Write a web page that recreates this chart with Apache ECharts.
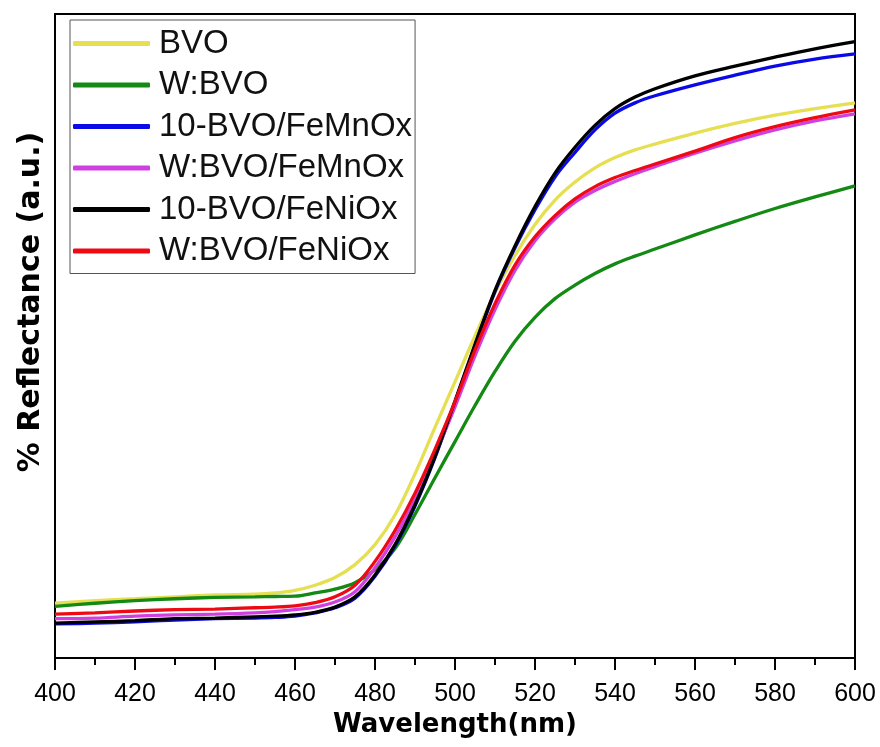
<!DOCTYPE html>
<html>
<head>
<meta charset="utf-8">
<title>Diffuse reflectance spectra</title>
<script src="https://cdn.jsdelivr.net/npm/echarts@6/dist/echarts.min.js"></script>
<style>
  html, body { margin: 0; padding: 0; background: #fff; }
  #chart { width: 880px; height: 747px; }
</style>
</head>
<body>
<div id="chart"></div>
<script>
// Wavelength sampling (nm)
const wavelengths = [400, 410, 420, 430, 440, 450, 455, 460, 465, 470, 475, 480, 485, 490, 495,
  500, 505, 510, 515, 520, 525, 530, 535, 540, 545, 550, 560, 570, 580, 590, 600];

// Reflectance (a.u.) for each sample
const bvo = [8.5, 8.9, 9.2, 9.5, 9.8, 9.9, 10.1, 10.5, 11.3, 12.5, 14.5, 17.6, 22.2, 28.6, 35.8,
  42.9, 50.0, 56.7, 62.5, 67.3, 71.1, 73.9, 76.1, 77.7, 78.9, 79.8, 81.5, 83.0, 84.3, 85.3, 86.2];
const wBvo = [8.0, 8.5, 8.9, 9.2, 9.4, 9.5, 9.55, 9.6, 10.1, 10.7, 11.7, 13.7, 17.0, 22.3, 28.0,
  33.6, 39.2, 44.5, 49.2, 52.9, 55.8, 57.9, 59.7, 61.2, 62.4, 63.5, 65.7, 67.8, 69.8, 71.6, 73.3];
const bvoFeMnOx = [5.3, 5.4, 5.6, 5.9, 6.1, 6.2, 6.3, 6.5, 7.0, 7.8, 9.3, 12.7, 17.4, 23.6, 31.1,
  39.7, 48.5, 56.9, 63.7, 69.6, 74.7, 78.5, 82.0, 84.6, 86.2, 87.3, 89.0, 90.5, 91.9, 93.0, 93.8];
const wBvoFeMnOx = [6.1, 6.2, 6.5, 6.7, 6.8, 7.0, 7.2, 7.5, 7.9, 8.7, 10.3, 14.0, 18.8, 24.6, 31.6,
  39.0, 46.9, 54.1, 60.2, 64.8, 68.2, 70.8, 72.6, 74.0, 75.2, 76.3, 78.4, 80.3, 82.0, 83.4, 84.5];
const bvoFeNiOx = [5.4, 5.6, 5.8, 6.1, 6.2, 6.4, 6.5, 6.7, 7.1, 7.9, 9.5, 12.9, 17.6, 23.8, 31.3,
  39.9, 48.7, 57.1, 64.0, 70.1, 75.3, 79.3, 82.7, 85.3, 87.1, 88.4, 90.4, 91.9, 93.3, 94.6, 95.7];
const wBvoFeNiOx = [6.8, 7.0, 7.3, 7.5, 7.6, 7.8, 7.9, 8.1, 8.6, 9.5, 11.3, 15.0, 19.8, 25.6, 32.4,
  39.8, 47.8, 55.0, 61.0, 65.4, 68.7, 71.3, 73.2, 74.6, 75.7, 76.7, 78.7, 80.8, 82.5, 83.9, 85.1];

const seriesNames = ['BVO', 'W:BVO', '10-BVO/FeMnOx', 'W:BVO/FeMnOx', '10-BVO/FeNiOx', 'W:BVO/FeNiOx'];
const seriesValues = [bvo, wBvo, bvoFeMnOx, wBvoFeMnOx, bvoFeNiOx, wBvoFeNiOx];
const seriesColors = ['#E6DF52', '#138A13', '#0A0AE6', '#D040E0', '#000000', '#EE0A14'];

const FONT = '"Liberation Sans", Arial, sans-serif';
const TITLE_FONT = '"DejaVu Sans", "Liberation Sans", sans-serif';

const chart = echarts.init(document.getElementById('chart'), null, { renderer: 'canvas' });

chart.setOption({
  backgroundColor: '#ffffff',
  animation: false,
  grid: {
    left: 55, right: 25, top: 14, bottom: 89,
    show: true, borderColor: '#000', borderWidth: 2, backgroundColor: 'transparent'
  },
  legend: {
    orient: 'vertical',
    left: 70, top: 20,
    padding: [6, 3, 5, 3],
    borderColor: '#555', borderWidth: 1,
    icon: 'roundRect',
    itemWidth: 77, itemHeight: 5, itemGap: 6.5,
    textStyle: { fontFamily: FONT, fontSize: 33, lineHeight: 35, color: '#111', padding: [0, 0, 0, 4] },
    data: seriesNames
  },
  xAxis: {
    type: 'value', min: 400, max: 600, interval: 20,
    name: 'Wavelength(nm)', nameLocation: 'middle', nameGap: 50,
    nameTextStyle: { fontFamily: TITLE_FONT, fontSize: 26, fontWeight: 'bold', color: '#000' },
    axisLine: { show: true, lineStyle: { color: '#000', width: 2 } },
    axisTick: { show: true, inside: false, length: 12, lineStyle: { color: '#000', width: 2 } },
    minorTick: { show: true, splitNumber: 2, length: 7, lineStyle: { color: '#000', width: 2 } },
    axisLabel: { fontFamily: FONT, fontSize: 25, color: '#000', margin: 24 },
    splitLine: { show: false }
  },
  yAxis: {
    type: 'value', min: 0, max: 100,
    name: '% Reflectance (a.u.)', nameLocation: 'middle', nameRotate: 90, nameGap: 9,
    nameTextStyle: { fontFamily: TITLE_FONT, fontSize: 30, fontWeight: 'bold', color: '#000', padding: [0, 0, 0, 68] },
    axisLine: { show: true, lineStyle: { color: '#000', width: 2 } },
    axisTick: { show: false },
    axisLabel: { show: false },
    splitLine: { show: false }
  },
  series: seriesNames.map((name, i) => ({
    name: name,
    type: 'line',
    data: wavelengths.map((w, j) => [w, seriesValues[i][j]]),
    smooth: 0.35,
    symbol: 'none',
    color: seriesColors[i],
    lineStyle: { width: 3.3, color: seriesColors[i] }
  }))
});
</script>
</body>
</html>
